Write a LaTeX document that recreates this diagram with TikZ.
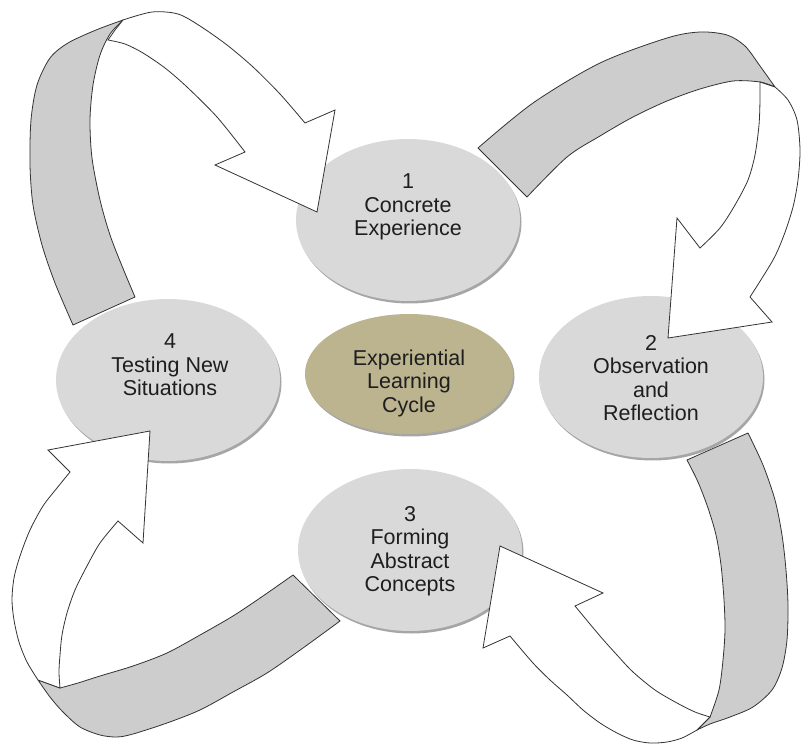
\documentclass[tikz,border=0pt]{standalone}
\usepackage{fontspec}
\setmainfont{Liberation Sans}
\usetikzlibrary{shapes.geometric,shadows}
\definecolor{ellfill}{HTML}{D9D9D9}
\definecolor{ribfill}{HTML}{CDCDCD}
\definecolor{tanfill}{HTML}{BCB38F}
\definecolor{txtcol}{HTML}{1E1E1E}
\definecolor{edgecol}{HTML}{333333}
\begin{document}
\begin{tikzpicture}[x=1pt,y=-1pt,
  ell/.style={ellipse, fill=ellfill, draw=none, minimum width=224pt, minimum height=162pt, inner sep=0pt,
    drop shadow={shadow xshift=1.5pt, shadow yshift=-2.5pt, opacity=0.35, fill=black}},
  cell/.style={ell, fill=tanfill, minimum width=208pt, minimum height=120pt},
  lbl/.style={align=center, text=txtcol, font=\fontsize{21.5}{23.5}\selectfont},
  back/.style={fill=ribfill, draw=edgecol, line width=0.8pt, line join=round},
  front/.style={fill=white, draw=edgecol, line width=0.8pt, line join=miter}]
\useasboundingbox (0,0) rectangle (801,746);

% ellipses
\node[ell] (e1) at (408,220) {};
\node[ell] (e2) at (651,377) {};
\node[ell] (e3) at (410,550) {};
\node[ell] (e4) at (168,380) {};
\node[cell] (ec) at (409,374) {};

% labels
\node[lbl] (t1) at (408,207) {1\\Concrete\\Experience};
\node[lbl] (t2) at (651,378) {2\\Observation\\and\\Reflection};
\node[lbl] (t3) at (410,551) {3\\Forming\\Abstract\\Concepts};
\node[lbl] (t4) at (170,365) {4\\Testing New\\Situations};
\node[lbl] (tc) at (409,383) {Experiential\\Learning\\Cycle};

% ribbon A : 4 -> 1
\filldraw[back] plot[smooth] coordinates {(73,325) (55,283) (42,245) (33,205) (30,165) (31,120) (37,85) (50,58) (68,43) (96,30) (123,20)}
  -- plot[smooth] coordinates {(123,20) (110,34) (100,55) (93,85) (90,120) (92,158) (100,200) (110,235) (122,266) (135,297)} -- cycle;
\filldraw[front] plot[smooth] coordinates {(123,20) (152,12) (178,14) (200,26) (227,45) (253,67) (280,94) (305,123)}
  -- (335,110) -- (317,212) -- (215,165) -- (245,152)
  -- plot[smooth] coordinates {(245,152) (217,117) (187,87) (165,68) (143,53) (125,44) (108,40)}
  -- (115,30) -- (123,20) -- cycle;

% ribbon B : 1 -> 2
\filldraw[back] plot[smooth] coordinates {(478,148) (533,103) (600,63) (667,38) (700,32) (727,35) (745,46) (760,66) (775,87)}
  -- plot[smooth] coordinates {(775,87) (760,82) (733,81) (700,89) (667,101) (633,117) (600,136) (567,157) (527,197)} -- cycle;
\filldraw[front] plot[smooth] coordinates {(775,87) (788,100) (797,120) (800,150) (798,180) (793,207) (784,235) (773,260) (750,297)}
  -- (772,322) -- (668,338) -- (677,218) -- (700,248)
  -- plot[smooth] coordinates {(700,248) (720,228) (735,205) (748,180) (755,155) (759,125) (760,100) (760,82)}
  -- (775,87) -- cycle;

% ribbon C : 2 -> 3
\filldraw[back] plot[smooth] coordinates {(687,460) (698,482) (708,508) (716,535) (721,565) (724,600) (725,630) (723,660) (719,690) (710,717)}
  -- (697,730)
  -- plot[smooth] coordinates {(697,730) (710,724) (730,717) (753,707) (772,690) (782,668) (787,640) (788,605) (786,570) (782,535) (775,500) (763,465) (748,433)} -- cycle;
\filldraw[front] plot[smooth] coordinates {(697,730) (682,738) (667,742) (650,743) (633,740) (617,733) (600,723) (583,710) (567,695) (550,680) (533,663) (510,636)}
  -- (483,648) -- (500,546) -- (603,593) -- (575,606)
  -- plot[smooth] coordinates {(575,606) (600,636) (617,655) (633,672) (655,690) (677,703) (695,712) (710,717)}
  -- (697,730) -- cycle;

% ribbon D : 3 -> 4
\filldraw[back] plot[smooth] coordinates {(293,575) (263,596) (233,616) (200,635) (167,653) (133,666) (100,676) (78,683) (60,688)}
  -- (38,680)
  -- plot[smooth] coordinates {(38,680) (50,697) (63,712) (80,727) (100,735) (117,737) (133,734) (167,723) (200,710) (233,692) (267,673) (303,648) (340,621)} -- cycle;
\filldraw[front] plot[smooth] coordinates {(38,680) (27,662) (19,642) (14,620) (12,600) (14,578) (20,556) (30,530) (43,506) (57,488) (70,472)}
  -- (48,450) -- (150,431) -- (143,543) -- (118,521)
  -- plot[smooth] coordinates {(118,521) (100,543) (87,566) (75,590) (67,613) (62,635) (60,655) (59,672) (60,688)}
  -- (38,680) -- cycle;
\end{tikzpicture}
\end{document}
